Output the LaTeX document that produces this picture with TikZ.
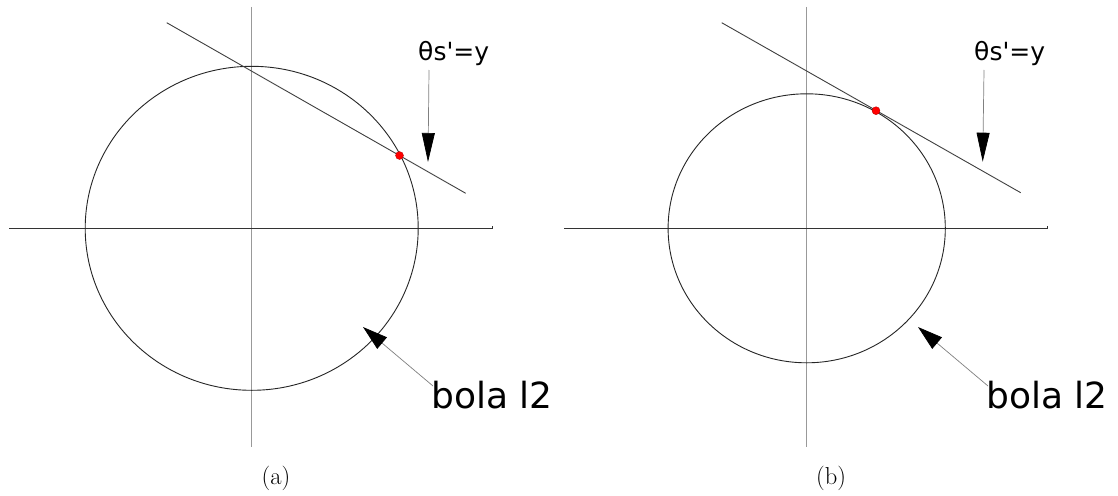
\documentclass[tikz,border=0pt]{standalone}
\usepackage{fontspec}
\newfontfamily\labfont{DejaVu Sans}
\usetikzlibrary{arrows.meta}
\begin{document}
\begin{tikzpicture}[x=1pt,y=-1pt,
  axh/.style={draw=black!80, line width=0.9pt},
  axv/.style={draw=black!40, line width=0.9pt},
  ball/.style={draw=black!85, line width=0.9pt},
  tang/.style={draw=black!75, line width=0.9pt},
  reddot/.style={circle, fill=red, draw=red!70!black, line width=0.3pt, inner sep=0pt, minimum size=8pt},
  lab/.style={font=\labfont\fontsize{25}{30}\selectfont, inner sep=0pt, anchor=base west},
  biglab/.style={font=\labfont\fontsize{36}{42}\selectfont, inner sep=0pt, anchor=base west},
  captext/.style={font=\fontsize{24.5}{29}\selectfont, inner sep=0pt, anchor=base},
  parr/.style={draw=black!50, line width=0.7pt, -{Triangle[length=29pt,width=13pt,color=black]}},
  barr/.style={draw=black!50, line width=0.7pt, -{Triangle[length=25pt,width=15pt,color=black]}},
]
\useasboundingbox (0,0) rectangle (1118,495);
\fill[white] (0,0) rectangle (1118,495);

% ---------- panel (a) ----------
\coordinate (oa) at (251.7,228.3);
\coordinate (ha1) at (9,228.3);
\coordinate (ha2) at (492,228.3);
\coordinate (ha3) at (492,225.8);
\coordinate (va1) at (251.7,7);
\coordinate (va2) at (251.7,447);
\draw[axv] (va1) -- (va2);
\draw[axh] (ha1) -- (ha2) -- (ha3);
\draw[ball] (oa) ellipse [x radius=166.5, y radius=162];
\coordinate (ta1) at (166.7,22.7);
\coordinate (ta2) at (465.7,193.3);
\draw[tang] (ta1) -- (ta2);
\node[reddot] (dota) at (399.5,155.5) {};

\node[lab] (laba) at (418,60.5) {θs'=y};
\coordinate (pa1) at (429,70);
\coordinate (pa2) at (428,162);
\draw[parr] (pa1) -- (pa2);

\node[biglab] (bola) at (431,408) {bola l2};
\coordinate (ba1) at (433,386);
\coordinate (ba2) at (363,327);
\draw[barr] (ba1) -- (ba2);

\node[captext] (capa) at (276,484) {(a)};

% ---------- panel (b) ----------
\coordinate (ob) at (806.7,228.3);
\coordinate (hb1) at (564,228.3);
\coordinate (hb2) at (1047,228.3);
\coordinate (hb3) at (1047,225.8);
\coordinate (vb1) at (806.7,7);
\coordinate (vb2) at (806.7,447);
\draw[axv] (vb1) -- (vb2);
\draw[axh] (hb1) -- (hb2) -- (hb3);
\draw[ball] (ob) ellipse [x radius=138.6, y radius=134.5];
\coordinate (tb1) at (721.7,22.7);
\coordinate (tb2) at (1020.7,192.7);
\draw[tang] (tb1) -- (tb2);
\node[reddot] (dotb) at (876,110.7) {};

\node[lab] (labb) at (974,60.5) {θs'=y};
\coordinate (pb1) at (984,70);
\coordinate (pb2) at (982.7,161.7);
\draw[parr] (pb1) -- (pb2);

\node[biglab] (bolb) at (986,408) {bola l2};
\coordinate (bb1) at (988,386);
\coordinate (bb2) at (918,327);
\draw[barr] (bb1) -- (bb2);

\node[captext] (capb) at (831,484) {(b)};
\end{tikzpicture}
\end{document}
